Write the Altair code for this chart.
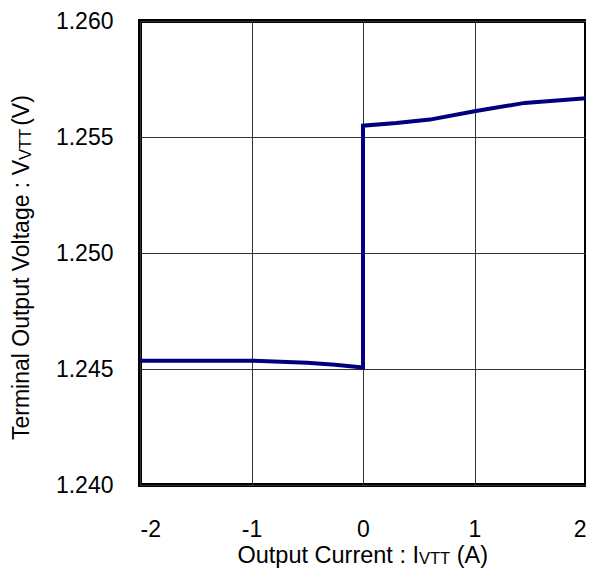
import altair as alt
import pandas as pd

currents = [-2.0, -1.5, -1.0, -0.5, -0.25, 0.0, 0.0, 0.3, 0.6, 1.0, 1.45, 2.0]
voltages = [1.24536, 1.24536, 1.24536, 1.24527, 1.24518, 1.24506,
            1.25549, 1.25560, 1.25575, 1.25611, 1.25647, 1.25667]
x_ticks = [-2, -1, 0, 1, 2]
y_ticks = [1.240, 1.245, 1.250, 1.255, 1.260]

x_title = ["Output Current : I", "VTT", "(A)"]
y_title = ["Terminal Output Voltage : V", "VTT", "(V)"]

df = pd.DataFrame({"i": currents, "v": voltages, "order": list(range(len(currents)))})
one = pd.DataFrame({"k": [0]})

font = "Liberation Sans"
main_fs = 23.5
sub_fs = 16.5
ymain_fs = 23

line = alt.Chart(df).mark_line(color="#00007f", strokeWidth=4, clip=True).encode(
    x=alt.X("i:Q", scale=alt.Scale(domain=[-2, 2], nice=False, zero=False),
            axis=alt.Axis(values=x_ticks, title=None, labelExpr="toString(datum.value)",
                          labelFontSize=23, labelPadding=33, ticks=False, domain=False,
                          gridColor="#333333", gridWidth=1, labelColor="black",
                          labelFont=font)),
    y=alt.Y("v:Q", scale=alt.Scale(domain=[1.240, 1.260], nice=False, zero=False),
            axis=alt.Axis(values=y_ticks, title=None, format=".3f", labelFontSize=23,
                          labelPadding=27, ticks=False, domain=False,
                          gridColor="#333333", gridWidth=1, labelColor="black",
                          labelFont=font)),
    order="order:Q",
)


def piece(txt, fs, align, xv, yv, angle=0):
    kw = dict(font=font, fontSize=fs, align=align, baseline="alphabetic", color="black")
    if angle:
        kw["angle"] = angle
    return alt.Chart(one).mark_text(**kw).encode(
        x=alt.value(xv), y=alt.value(yv), text=alt.value(txt))


# x-axis title (junction between "I" and the subscript)
xj = 279
xb = 542
sub_w = 1.889 * sub_fs
xt1 = piece(x_title[0], main_fs, "right", xj, xb)
xt2 = piece(x_title[1], sub_fs, "left", xj, xb + 1)
xt3 = piece(x_title[2], main_fs, "left", xj + sub_w + 6.5, xb)

# y-axis title (rotated, junction between "V" and the subscript)
yj = 139
yb = -111
yt1 = piece(y_title[0], ymain_fs, "right", yb, yj, 270)
yt2 = piece(y_title[1], sub_fs, "left", yb + 2, yj, 270)
yt3 = piece(y_title[2], ymain_fs, "left", yb, yj - sub_w - 3, 270)

chart = alt.layer(line, xt1, xt2, xt3, yt1, yt2, yt3).properties(
    width=446, height=464,
    autosize=alt.AutoSizeParams(type="none"),
    padding={"left": 132, "top": 13, "right": 0, "bottom": 84},
).configure_view(stroke="black", strokeWidth=4)

chart.save("out.html", embed_options={"renderer": "svg", "actions": False})
